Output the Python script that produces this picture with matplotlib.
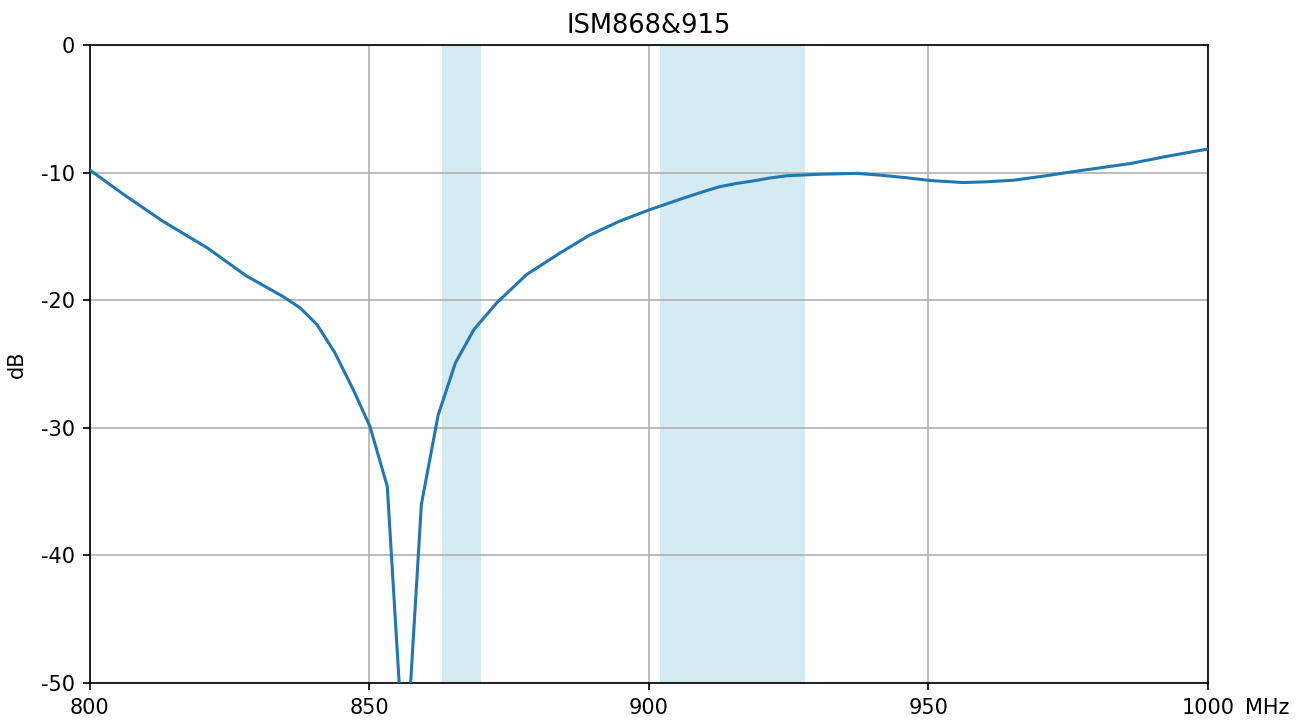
import numpy as np
import matplotlib
matplotlib.use('Agg')
from matplotlib import pyplot as plt

# (MHz, dB)
freq_mhz = [800, 806, 813, 821, 828, 834.5, 837.6, 840.6, 843.8, 847.1, 850.1,
            853.2, 855.6, 857.1, 859.3, 862.3, 865.4, 868.7, 872.8, 878.1,
            884.1, 889.4, 894.8, 900.2, 905.5, 909.7, 912.7, 915.7, 918.7,
            921.7, 924.6, 930.6, 937.2, 941.3, 946, 950.3, 956.2, 960.5,
            965.2, 971, 977.1, 986, 993, 1000]
s11_db = [-9.8, -11.7, -13.8, -15.9, -18.1, -19.7, -20.6, -21.9, -24.1, -27.0,
          -29.9, -34.6, -52.0, -52.0, -36.0, -29.0, -24.9, -22.3, -20.2, -18.0,
          -16.3, -14.9, -13.8, -12.9, -12.1, -11.5, -11.1, -10.85, -10.65,
          -10.42, -10.25, -10.13, -10.06, -10.2, -10.4, -10.62, -10.78, -10.72,
          -10.6, -10.25, -9.85, -9.3, -8.7, -8.15]

bands = [(863, 870), (902, 928)]
x_ticks = [800, 850, 900, 950, 1000]
x_tick_labels = ['800', '850', '900', '950', '1000']
y_ticks = [0, -10, -20, -30, -40, -50]

plt.rcParams['axes.unicode_minus'] = False
plt.rcParams['font.size'] = 15

fig = plt.figure(figsize=(13.03, 7.22), dpi=100)
ax = fig.add_axes([0.069, 0.054, 0.858, 0.8837])

for lo, hi in bands:
    ax.axvspan(lo, hi, color='lightblue', alpha=0.5, lw=0, zorder=0)

ax.plot(freq_mhz, s11_db, color='tab:blue', lw=2.2, zorder=3)

ax.set_xlim(800, 1000)
ax.set_ylim(-50, 0)
ax.set_xticks(x_ticks)
ax.set_xticklabels(x_tick_labels)
ax.set_yticks(y_ticks)
ax.tick_params(axis='both', length=5, width=1.2)
ax.tick_params(axis='x', pad=5.5)
ax.tick_params(axis='y', pad=6)
for sp in ax.spines.values():
    sp.set_linewidth(1.2)
ax.grid(True, color='#b0b0b0', lw=1.2)
ax.set_axisbelow(True)
ax.set_ylabel('dB', labelpad=10)
ax.set_title('ISM868&915', fontsize=18.5, pad=8.5)

# unit label sits to the right of the last tick label
ax.annotate('MHz', xy=(1, 0), xycoords='axes fraction', xytext=(26.5, -10.5),
            textcoords='offset points', ha='left', va='top')

fig.savefig('out.png', dpi=100)
